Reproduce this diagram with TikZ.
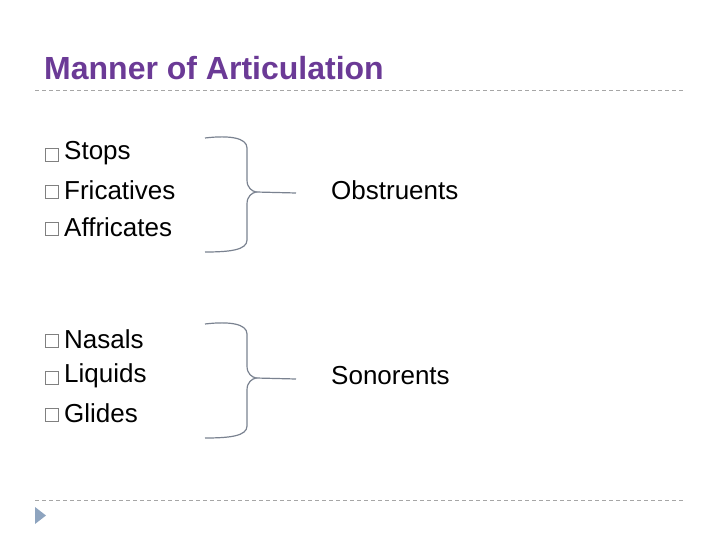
\documentclass[tikz,border=0pt]{standalone}
\usepackage{fontspec}
\setmainfont{Liberation Sans}
\definecolor{ttl}{HTML}{6B3A96}
\definecolor{rule}{HTML}{A6A6A6}
\definecolor{brc}{HTML}{7A8290}
\definecolor{tri}{HTML}{8EA4BF}
\begin{document}
\begin{tikzpicture}[x=1pt,y=-1pt,
  item/.style={anchor=west,inner sep=0pt,font=\fontsize{26}{28}\selectfont},
  bul/.style={draw=gray,line width=1.2pt,minimum size=13pt,inner sep=0pt},
  brace/.style={draw=brc,line width=1.2pt}]
\useasboundingbox (0,0) rectangle (720,540);
\node[anchor=west,inner sep=0pt,text=ttl,font=\fontsize{32}{36}\selectfont\bfseries] (title) at (44,68) {Manner of Articulation};
\coordinate (r1a) at (35,90); \coordinate (r1b) at (685,90);
\coordinate (r2a) at (35,500); \coordinate (r2b) at (685,500);
\draw[rule,line width=0.8pt,dash pattern=on 4pt off 3pt] (r1a) -- (r1b);
\draw[rule,line width=0.8pt,dash pattern=on 4pt off 3pt] (r2a) -- (r2b);
\coordinate (t1) at (35,507); \coordinate (t2) at (35,524); \coordinate (t3) at (46,515.5);
\fill[tri] (t1) -- (t2) -- (t3) -- cycle;
\foreach \y/\t [count=\i] in {153/Stops,190/Fricatives,227/Affricates,339/Nasals,376/Liquids,413/Glides}{
  \node[bul] (b\i) at (52,\y+2) {};
  \node[item] (i\i) at (64,\y) {\t};
}
\foreach \c/\n in {190/a,376/b}{
  \coordinate (s\n) at (205,\c-52);
  \coordinate (e\n) at (205,\c+62);
  \coordinate (m\n) at (256,\c+2);
  \coordinate (p\n) at (296,\c+3);
  \draw[brace] (s\n) .. controls (230,\c-55) and (247,\c-52) .. (247,\c-42)
    -- (247,\c-10) .. controls (247,\c-2) and (252,\c+1) .. (m\n)
    .. controls (252,\c+3) and (247,\c+6) .. (247,\c+14)
    -- (247,\c+50) .. controls (247,\c+60) and (230,\c+62) .. (e\n);
  \draw[brace] (m\n) -- (p\n);
}
\node[item] (obs) at (331,190) {Obstruents};
\node[item] (son) at (331,376) {Sonorents};
\end{tikzpicture}
\end{document}
